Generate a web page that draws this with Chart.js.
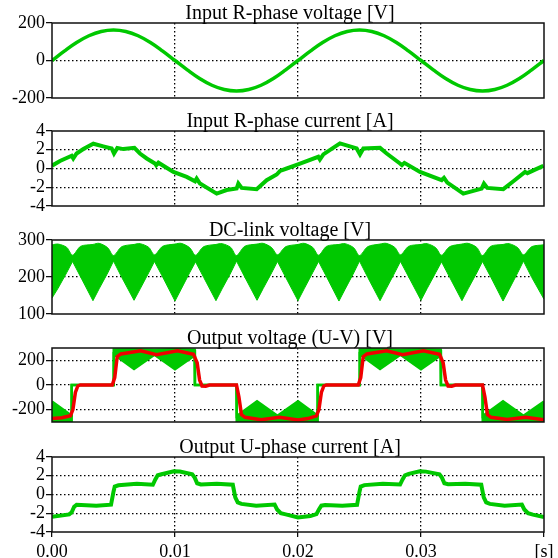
<!DOCTYPE html>
<html><head><meta charset="utf-8">
<script src="https://cdn.jsdelivr.net/npm/chart.js@4.4.0/dist/chart.umd.min.js"></script>
<style>
html,body{margin:0;padding:0;background:#fff;}
#wrap{position:relative;width:558px;height:558px;overflow:hidden;background:#fff;}
canvas{position:absolute;left:0;}
</style></head><body>
<div id="wrap">
<canvas id="c1" width="558" height="110" style="top:0px"></canvas>
<canvas id="c2" width="558" height="110" style="top:108px"></canvas>
<canvas id="c3" width="558" height="109" style="top:217px"></canvas>
<canvas id="c4" width="558" height="109" style="top:325px"></canvas>
<canvas id="c5" width="558" height="124" style="top:434px"></canvas>
</div>
<script>
// ---------- tick labels / titles ----------
const xTickValues = [0, 0.01, 0.02, 0.03, 0.04];
const xTickLabels = ['0.00', '0.01', '0.02', '0.03', '[s]'];
const panelTitles = ['Input R-phase voltage [V]', 'Input R-phase current [A]', 'DC-link voltage [V]', 'Output voltage (U-V) [V]', 'Output U-phase current [A]'];
const vinTicks = [-200, 0, 200];
const iinTicks = [-4, -2, 0, 2, 4];
const vdcTicks = [100, 200, 300];
const vuvTicks = [-200, 0, 200];
const iuTicks = [-4, -2, 0, 2, 4];

// ---------- panel 1: input R-phase voltage ----------
const vinTime = [0,0.001,0.002,0.003,0.004,0.005,0.006,0.007,0.008,0.009,0.010,0.011,0.012,0.013,0.014,0.015,0.016,0.017,0.018,0.019,0.020,
                 0.021,0.022,0.023,0.024,0.025,0.026,0.027,0.028,0.029,0.030,0.031,0.032,0.033,0.034,0.035,0.036,0.037,0.038,0.039,0.040];
const vinValue = [0,50,96,132,155,163,155,132,96,50,0,-50,-96,-132,-155,-163,-155,-132,-96,-50,0,
                  50,96,132,155,163,155,132,96,50,0,-50,-96,-132,-155,-163,-155,-132,-96,-50,0];

// ---------- panel 2: input R-phase current ----------
const iinTime = [0,0.00065,0.0016,0.00173,0.0020,0.00255,0.00336,0.00417,0.00485,0.00504,0.00531,0.0058,0.0067,0.00715,0.0077,0.00837,0.00847,0.00865,
                 0.00987,0.01095,0.01163,0.01176,0.01203,0.01339,0.0142,0.01501,0.01515,0.01542,0.01664,0.01745,0.01827,0.01854,0.01908,
                 0.0200,0.02165,0.02178,0.02206,0.02341,0.02477,0.02504,0.02531,0.02667,0.02721,0.02829,0.02845,0.02865,
                 0.02992,0.03168,0.03187,0.03214,0.03344,0.03493,0.03512,0.03539,0.03669,0.03751,0.03846,0.03865,0.03995];
const iinValue = [0.3,0.8,1.36,1.07,1.6,2.07,2.64,2.36,2.14,1.6,2.2,2.07,2.2,1.6,1.07,0.54,0.35,0.62,
                  -0.36,-0.9,-1.36,-1.07,-1.6,-2.68,-2.3,-2.14,-1.6,-2.07,-2.2,-1.25,-0.64,-0.25,0.0,
                  0.43,1.25,0.96,1.5,2.68,2.14,1.5,2.14,2.2,1.6,0.54,0.36,0.6,
                  -0.36,-1.25,-1.0,-1.5,-2.68,-2.14,-1.6,-2.07,-2.2,-1.36,-0.36,-0.5,0.29];

// ---------- panel 3: DC-link voltage (envelopes of the ripple band) ----------
const vdcTime = [0,0.0005,0.0012,0.00167,0.00233,
                 0.00333,0.00383,0.00453,0.005,0.00567,
                 0.00667,0.00717,0.00787,0.00833,0.009,
                 0.01,0.0105,0.0112,0.01167,0.01233,
                 0.01333,0.01383,0.01453,0.015,0.01567,
                 0.01667,0.01717,0.01787,0.01833,0.019,
                 0.02,0.0205,0.0212,0.02167,0.02233,
                 0.02333,0.02383,0.02453,0.025,0.02567,
                 0.02667,0.02717,0.02787,0.02833,0.029,
                 0.03,0.0305,0.0312,0.03167,0.03233,
                 0.03333,0.03383,0.03453,0.035,0.03567,
                 0.03667,0.03717,0.03787,0.03833,0.039,
                 0.04];
const vdcUpper = [287,289,280,259,283, 288,291,279,258,282, 288,290,280,260,283, 289,291,279,259,282,
                  288,290,280,258,283, 289,291,279,260,282, 288,291,280,259,283, 288,290,279,258,282,
                  289,291,280,260,283, 288,290,279,259,282, 289,291,280,258,283, 288,290,279,260,282, 287];
const vdcLower = [143,170,212,242,200, 136,168,211,243,199, 137,168,212,242,200, 135,167,212,241,199,
                  136,168,211,243,200, 137,169,212,242,199, 136,168,212,242,200, 135,167,211,243,199,
                  136,168,212,242,200, 137,169,212,241,199, 136,168,211,242,200, 135,167,212,243,199, 140];

// ---------- panel 4: output voltage U-V ----------
const vuvBandTime = [0,0.00158,0.0016,0.005,0.00502,0.00667,0.00833,0.01,0.0116,0.01162,0.015,0.01502,0.01667,0.01833,0.02,
                     0.02158,0.0216,0.025,0.02502,0.02667,0.02833,0.03,0.0316,0.03162,0.035,0.03502,0.03667,0.03833,0.04];
const vuvBandUpper = [-133,-248,0,0,288,290,285,291,286,0,0,-252,-133,-250,-133,
                      -248,0,0,288,291,285,290,286,0,0,-252,-133,-250,-133];
const vuvBandLower = [-292,-290,0,0,250,130,245,128,240,0,0,-290,-293,-290,-293,
                      -290,0,0,250,130,245,128,240,0,0,-290,-293,-290,-293];
const vuvFiltTime = [0,0.0008,0.0015,0.0017,0.0019,0.0021,0.0023,0.0049,0.0051,0.0053,0.0056,0.0072,0.0085,0.0102,0.0115,0.0118,0.0120,0.0122,0.0125,0.0128,
                     0.0150,0.0152,0.0154,0.0157,0.0170,0.0185,0.0200,
                     0.0208,0.0215,0.0217,0.0219,0.0221,0.0223,0.0249,0.0251,0.0253,0.0256,0.0272,0.0285,0.0302,0.0315,0.0318,0.0320,0.0322,0.0325,0.0328,
                     0.0350,0.0352,0.0354,0.0357,0.0370,0.0385,0.0400];
const vuvFiltValue = [-272,-265,-250,-200,-60,-8,0,0,60,230,252,278,246,278,250,180,40,-8,-10,0,
                      0,-100,-240,-262,-282,-262,-284,
                      -272,-250,-200,-60,-8,0,0,60,230,252,278,246,278,250,180,40,-8,-10,0,
                      0,-100,-240,-262,-280,-262,-282];

// ---------- panel 5: output U-phase current ----------
const iuTime = [0,0.0014,0.0016,0.0018,0.0020,0.0036,0.0048,0.0050,0.0051,0.0054,0.0069,0.0082,0.0084,0.0086,0.0089,0.0099,0.0104,0.0114,0.0116,0.0118,0.0121,
                0.0134,0.0147,0.0149,0.0151,0.0154,0.0166,0.0181,0.0183,0.0186,0.0190,
                0.0200,0.0210,0.0215,0.0217,0.0219,0.0222,0.0236,0.0248,0.0250,0.0251,0.0254,0.0269,0.0283,0.0285,0.0287,0.0290,0.0299,0.0304,0.0315,0.0317,0.0319,0.0322,
                0.0336,0.0349,0.0351,0.0353,0.0356,0.0368,0.0382,0.0384,0.0387,0.0391,0.0400];
const iuValue = [-2.37,-2.12,-1.9,-1.3,-1.1,-1.19,-1.08,0.3,0.85,0.98,1.15,1.04,1.6,2.05,2.16,2.48,2.46,2.16,1.8,1.2,1.08,
                 1.15,1.04,-0.3,-0.85,-1.0,-1.19,-1.08,-1.6,-2.0,-2.12,
                 -2.45,-2.3,-2.09,-1.6,-1.19,-1.12,-1.2,-1.1,0.3,0.85,1.0,1.15,1.06,1.6,2.05,2.2,2.48,2.44,2.16,1.8,1.2,1.1,
                 1.15,1.04,-0.3,-0.85,-1.0,-1.19,-1.08,-1.6,-2.0,-2.15,-2.4];

// ---------- drawing ----------
const GREEN = '#00c800';
const RED = '#f00000';
const FONT = { family: 'Liberation Serif', size: 18 };
function pts(ts, vs) { return ts.map((t, i) => ({ x: t, y: vs[i] })); }

const panelPlugin = {
  id: 'panelFrame',
  afterDraw(chart, args, o) {
    const { ctx, chartArea: a } = chart;
    ctx.save();
    ctx.strokeStyle = '#111';
    ctx.lineWidth = 1.5;
    ctx.strokeRect(a.left, a.top, a.right - a.left, a.bottom - a.top);
    ctx.fillStyle = '#000';
    ctx.font = '20px "Liberation Serif"';
    ctx.textAlign = 'center';
    ctx.textBaseline = 'alphabetic';
    ctx.fillText(o.text, (a.left + a.right) / 2 - 8, a.top - 3.7);
    ctx.restore();
  }
};

function gridColor(min, max) {
  return c => {
    const v = c.tick ? c.tick.value : null;
    if (v === null) return 'rgba(0,0,0,0)';
    const eps = (max - min) * 1e-6;
    return (v <= min + eps || v >= max - eps) ? 'rgba(0,0,0,0)' : '#000';
  };
}

function makeChart(id, datasets, yMin, yMax, yTicks, showX, title) {
  return new Chart(document.getElementById(id), {
    type: 'line',
    data: { datasets },
    options: {
      responsive: false,
      animation: false,
      devicePixelRatio: 1,
      layout: { padding: { top: 23, right: 14, left: 0, bottom: showX ? 0 : 12 } },
      plugins: { legend: { display: false }, tooltip: { enabled: false }, title: { display: false }, panelFrame: { text: title } },
      elements: { point: { radius: 0 }, line: { tension: 0 } },
      scales: {
        x: {
          type: 'linear', min: 0, max: 0.04,
          afterBuildTicks: s => { s.ticks = xTickValues.map(v => ({ value: v })); },
          afterFit: s => { s.height = showX ? 26 : 0; },
          grid: { color: gridColor(0, 0.04), lineWidth: 1.3, drawTicks: showX, tickLength: 5, tickColor: '#000', tickWidth: 1.2, tickBorderDash: [] },
          border: { display: false, dash: [1.5, 2.5] },
          ticks: { display: showX, autoSkip: false, maxRotation: 0, padding: 4, font: FONT, color: '#000',
                   callback: (v, i) => xTickLabels[i] }
        },
        y: {
          type: 'linear', min: yMin, max: yMax,
          afterBuildTicks: s => { s.ticks = yTicks.map(v => ({ value: v })); },
          afterFit: s => { s.width = 52; },
          grid: { color: gridColor(yMin, yMax), lineWidth: 1.3, drawTicks: true, tickLength: 6, tickColor: '#000', tickWidth: 1.2, tickBorderDash: [] },
          border: { display: false, dash: [1.5, 2.5] },
          ticks: { autoSkip: false, padding: 1, font: FONT, color: '#000', callback: v => String(v) }
        }
      }
    },
    plugins: [panelPlugin]
  });
}

makeChart('c1', [
  { data: pts(vinTime, vinValue), borderColor: GREEN, borderWidth: 3.5, tension: 0.4, fill: false }
], -200, 200, vinTicks, false, panelTitles[0]);

makeChart('c2', [
  { data: pts(iinTime, iinValue), borderColor: GREEN, borderWidth: 4, fill: false }
], -4, 4, iinTicks, false, panelTitles[1]);

makeChart('c3', [
  { data: pts(vdcTime, vdcUpper), borderColor: GREEN, borderWidth: 1, tension: 0.3, fill: false },
  { data: pts(vdcTime, vdcLower), borderColor: GREEN, borderWidth: 1, backgroundColor: GREEN, fill: '-1' }
], 100, 300, vdcTicks, false, panelTitles[2]);

makeChart('c4', [
  { data: pts(vuvFiltTime, vuvFiltValue), borderColor: RED, borderWidth: 3.5, fill: false },
  { data: pts(vuvBandTime, vuvBandUpper), borderColor: GREEN, borderWidth: 2.5, fill: false },
  { data: pts(vuvBandTime, vuvBandLower), borderColor: GREEN, borderWidth: 2.5, backgroundColor: GREEN, fill: '-1' }
], -300, 300, vuvTicks, false, panelTitles[3]);

makeChart('c5', [
  { data: pts(iuTime, iuValue), borderColor: GREEN, borderWidth: 4, fill: false }
], -4, 4, iuTicks, true, panelTitles[4]);
</script>
</body></html>
